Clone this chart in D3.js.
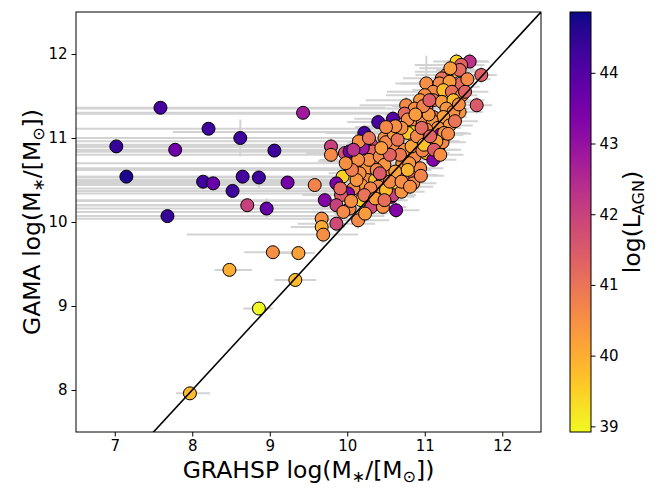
<!DOCTYPE html>
<html><head><meta charset="utf-8">
<script src="https://cdn.jsdelivr.net/npm/d3@7"></script>
<style>body{margin:0;background:#fff} svg{display:block} text{font-family:"DejaVu Sans",sans-serif;fill:#000}</style>
</head><body><svg id="c" width="663" height="488"></svg>
<script>
const xTicks=[7,8,9,10,11,12];
const yTicks=[8,9,10,11,12];
const cTicks=[39,40,41,42,43,44];

const grahsp=[
7.59,7.02,7.78,8.21,8.62,9.06,9.43,7.15,8.14,8.27,
8.52,8.65,8.86,9.23,7.68,8.71,8.96,9.58,8.48,9.04,
9.37,9.33,8.86,7.97,
11.58,11.41,11.47,11.73,11.37,11.45,11.28,11.22,11.41,11.47,
11.02,11.19,11.32,11.11,11.24,11.35,11.48,11.67,11.00,10.94,
11.11,11.22,11.37,11.45,10.76,10.87,11.02,11.11,11.28,11.37,
11.24,11.09,10.94,10.74,10.81,11.32,11.17,11.02,10.85,11.20,
10.72,10.40,10.22,10.59,10.78,10.78,11.02,10.92,10.48,10.31,
10.22,10.33,10.42,10.59,10.74,10.87,11.02,11.11,11.17,11.23,
11.25,10.66,10.74,10.87,10.94,10.57,10.52,10.71,10.25,10.25,
10.36,10.46,9.79,9.79,9.97,10.03,10.20,
10.12,10.28,10.42,10.48,9.94,9.86,10.16,10.18,10.08,10.01,
9.92,9.71,9.86,10.03,10.18,10.31,10.46,10.63,10.63,10.59,
9.67,9.67,9.69,9.86,10.14,10.34,10.40,10.50,9.91,10.14,
10.50,10.60,10.65,10.70,10.83,10.90,10.96,11.05,10.97,10.68,
10.55,10.38,10.62,10.80,10.85,10.78,10.44,10.30,10.22,10.12,
10.06,10.36,10.48,10.55,10.70,11.15,11.30,11.39,11.44,11.52,
11.55,11.33,10.98,10.88,11.06,10.70,10.99,11.07,10.05,9.95,
10.23,10.42,10.15,9.98,10.08,10.28,10.62,10.50,11.12,11.20,
10.95,10.81];

const gama=[
11.36,10.90,10.86,11.11,11.00,10.85,11.30,10.54,10.48,10.46,
10.37,10.54,10.53,10.47,10.07,10.20,10.16,10.44,9.43,9.64,
9.63,9.31,8.97,7.96,
11.91,11.91,11.87,11.75,11.79,11.81,11.75,11.71,11.61,11.65,
11.65,11.65,11.67,11.55,11.57,11.55,11.51,11.39,11.51,11.45,
11.45,11.43,11.45,11.31,11.39,11.35,11.35,11.25,11.35,11.31,
11.25,11.21,11.21,11.29,11.19,11.15,11.12,11.10,11.07,11.04,
11.10,11.19,11.06,11.23,11.22,11.06,10.98,10.96,11.00,10.92,
10.90,10.84,10.74,10.90,10.86,10.78,10.82,10.74,10.86,10.95,
11.06,10.42,10.54,10.56,10.64,10.30,10.60,10.70,10.64,10.50,
10.50,10.50,10.90,10.80,10.82,10.84,10.88,
10.72,10.74,10.78,10.68,10.54,10.46,10.58,10.44,10.40,10.34,
10.32,10.26,10.20,10.16,10.26,10.18,10.18,10.14,10.40,10.32,
10.04,9.94,9.85,9.98,10.02,10.36,10.42,10.38,10.40,10.74,
10.95,11.05,10.98,11.12,10.90,11.02,11.12,11.28,10.85,10.80,
10.80,10.62,10.60,10.70,10.46,10.62,10.88,10.40,10.32,10.50,
10.62,10.28,10.26,10.48,10.36,10.96,11.05,11.20,11.40,11.55,
11.70,11.83,11.38,11.28,11.45,10.48,10.92,11.02,10.25,10.12,
10.10,10.58,10.96,10.70,10.86,11.00,11.14,11.13,10.86,10.80,
10.55,10.42];

const logLagn=[
44.2,44.4,43.6,44.3,44.3,44.3,42.8,44.7,44.3,43.7,
44.3,44.2,44.3,43.5,44.4,42.0,43.7,40.7,40.0,40.5,
40.2,39.8,38.95,39.8,
42.3,39.5,41.3,41.4,39.9,41.2,40.4,41.0,40.5,41.2,
40.5,40.6,40.3,40.6,39.8,41.1,40.4,41.5,40.5,40.4,
41.0,40.3,39.8,40.4,40.6,40.5,40.8,41.2,40.4,40.5,
40.2,40.4,40.6,41.2,40.5,40.3,40.4,40.6,39.6,43.4,
41.1,44.2,44.3,44.0,40.5,39.6,39.5,40.5,40.5,42.0,
42.8,41.2,40.6,40.5,40.4,40.6,39.8,43.3,40.4,40.6,
40.4,39.4,41.3,41.4,40.6,43.3,40.5,40.4,40.4,40.5,
39.7,40.5,42.0,40.6,41.6,43.5,42.8,
41.3,40.5,40.6,40.4,39.5,43.4,40.5,40.3,40.6,43.3,
41.5,43.3,42.0,40.6,39.5,41.8,40.5,43.3,39.5,42.0,
40.5,40.0,40.5,41.8,40.6,40.4,40.6,39.8,41.2,40.5,
40.6,40.3,41.0,40.5,40.2,40.6,41.2,40.4,40.7,40.9,
41.3,40.6,40.2,40.4,40.6,39.9,40.3,40.7,41.0,40.4,
40.8,40.3,41.1,40.6,40.4,40.2,40.6,41.0,40.5,41.3,
40.6,40.3,40.7,40.3,41.4,40.5,39.7,41.3,40.5,40.6,
40.3,41.5,40.5,40.5,42.3,41.0,40.5,40.6,41.5,40.5,
40.7,40.5];

const xErrLo=[
1.5,1.0,1.5,2.0,2.5,3.0,3.5,1.0,2.0,2.0,
2.2,2.5,2.5,3.0,1.5,2.5,2.5,3.5,0.19,0.37,
0.30,0.27,0.20,0.18,
0.35,0.30,0.60,0.30,0.50,0.30,0.40,0.50,0.30,0.35,
0.40,0.50,0.40,0.60,0.40,0.40,0.30,0.40,0.50,0.70,
0.40,0.35,0.30,0.30,0.60,4.50,0.40,0.50,0.30,0.30,
0.35,0.40,0.50,4.50,0.50,0.30,0.40,0.40,3.10,0.30,
0.50,0.40,0.50,0.50,0.40,0.40,0.30,0.40,0.50,4.00,
4.00,4.00,0.50,0.50,0.40,0.40,0.30,0.30,0.30,0.30,
0.30,0.40,0.40,0.40,0.40,0.50,0.40,0.40,4.00,4.00,
0.50,0.50,3.50,3.50,0.50,3.60,0.50,
0.50,0.50,0.50,0.50,0.40,3.50,0.40,0.40,0.40,3.60,
0.50,3.30,3.40,0.40,0.40,0.50,0.50,0.50,0.40,0.40,
3.20,0.40,1.76,0.50,0.40,0.40,0.40,0.40,3.40,0.50,
0.50,0.50,0.50,0.50,0.40,0.40,0.40,0.40,0.40,0.40,
0.40,0.40,0.40,0.40,0.40,0.40,0.40,0.40,0.40,4.00,
4.00,0.40,0.40,0.40,0.40,0.30,0.30,0.30,0.30,0.30,
0.30,0.40,0.40,0.40,0.40,0.40,0.40,0.40,3.80,3.60,
0.40,0.40,4.00,3.60,0.40,0.40,0.40,0.40,0.30,0.30,
0.40,0.40];

const xErrHi=[
2.9,3.6,2.9,2.4,2.0,1.6,1.2,3.4,2.5,2.3,
2.1,2.0,1.8,1.4,2.8,1.9,1.7,0.9,0.29,0.35,
0.21,0.27,0.18,0.26,
0.25,0.40,0.30,0.20,0.30,0.30,0.30,0.30,0.30,0.20,
0.30,0.30,0.30,0.30,0.30,0.30,0.20,0.20,0.30,0.30,
0.30,0.40,0.40,0.30,0.30,0.30,0.30,0.30,0.30,0.30,
0.30,0.30,0.30,0.30,0.30,0.30,0.30,0.30,0.30,0.30,
0.30,0.30,0.30,0.30,0.30,0.30,0.30,0.30,0.30,0.30,
0.30,0.30,0.30,0.30,0.30,0.30,0.30,0.30,0.30,0.30,
0.30,0.30,0.30,0.30,0.30,0.30,0.30,0.30,0.30,0.30,
0.30,0.30,0.50,0.50,0.30,0.40,0.30,
0.30,0.30,0.30,0.30,0.30,0.40,0.30,0.30,0.30,0.40,
0.40,0.40,0.40,0.40,0.30,0.40,0.30,0.30,0.30,0.30,
0.50,0.30,0.45,0.50,0.40,0.30,0.30,0.30,0.30,0.30,
0.30,0.30,0.30,0.30,0.30,0.30,0.30,0.30,0.30,0.30,
0.30,0.30,0.30,0.30,0.30,0.30,0.30,0.30,0.30,0.30,
0.30,0.30,0.30,0.30,0.30,0.30,0.30,0.30,0.30,0.30,
0.30,0.30,0.30,0.30,0.30,0.30,0.30,0.30,0.30,0.30,
0.30,0.30,0.30,0.30,0.30,0.30,0.30,0.30,0.30,0.30,
0.30,0.30];

const yErr=[
0.05,0.05,0.05,0.05,0.22,0.05,0.05,0.05,0.05,0.05,
0.05,0.05,0.12,0.05,0.05,0.05,0.12,0.05,0.05,0.05,
0.05,0.05,0.05,0.05,
0.10,0.10,0.10,0.10,0.10,0.10,0.10,0.10,0.10,0.10,
0.33,0.10,0.10,0.10,0.10,0.10,0.10,0.10,0.10,0.10,
0.10,0.10,0.10,0.10,0.10,0.10,0.10,0.10,0.10,0.10,
0.10,0.10,0.10,0.10,0.10,0.10,0.10,0.10,0.10,0.10,
0.10,0.10,0.10,0.10,0.10,0.10,0.10,0.10,0.10,0.10,
0.10,0.10,0.10,0.10,0.10,0.10,0.10,0.10,0.10,0.10,
0.10,0.10,0.10,0.10,0.10,0.10,0.10,0.10,0.10,0.10,
0.10,0.10,0.10,0.10,0.10,0.10,0.10,
0.10,0.10,0.10,0.10,0.10,0.10,0.10,0.10,0.10,0.10,
0.10,0.10,0.10,0.10,0.10,0.10,0.10,0.10,0.10,0.10,
0.10,0.10,0.10,0.10,0.10,0.10,0.10,0.10,0.10,0.10,
0.10,0.10,0.10,0.10,0.10,0.10,0.10,0.10,0.10,0.10,
0.10,0.10,0.10,0.10,0.10,0.10,0.10,0.10,0.10,0.10,
0.10,0.10,0.10,0.10,0.10,0.10,0.10,0.10,0.10,0.10,
0.10,0.10,0.10,0.10,0.10,0.10,0.10,0.10,0.10,0.10,
0.10,0.10,0.10,0.10,0.10,0.10,0.10,0.10,0.10,0.10,
0.10,0.10];

const lens=[grahsp,gama,logLagn,xErrLo,xErrHi,yErr].map(a=>a.length);
if(new Set(lens).size!==1) throw new Error("length mismatch "+lens.join(","));

const svg=d3.select("#c");
const L=76,R=541,T=12,B=432;
const x=d3.scaleLinear().domain([6.5,12.5]).range([L,R]);
const y=d3.scaleLinear().domain([7.5,12.5]).range([B,T]);
const cMin=38.92,cMax=44.86;
const cNorm=d3.scaleLinear().domain([cMin,cMax]).range([1,0]);
const color=v=>d3.interpolatePlasma(cNorm(v));

svg.append("clipPath").attr("id","clip").append("rect")
  .attr("x",L).attr("y",T).attr("width",R-L).attr("height",B-T);

const data=grahsp.map((g,i)=>({gx:g,gy:gama[i],l:logLagn[i],lo:xErrLo[i],hi:xErrHi[i],ye:yErr[i]}));

const plot=svg.append("g").attr("clip-path","url(#clip)");
const eb=plot.append("g").attr("stroke","#d3d3d3").attr("stroke-width",2);
eb.selectAll("line.h").data(data).join("line").attr("class","h")
  .attr("x1",d=>x(d.gx-d.lo)).attr("x2",d=>x(d.gx+d.hi))
  .attr("y1",d=>y(d.gy)).attr("y2",d=>y(d.gy));
eb.selectAll("line.v").data(data).join("line").attr("class","v")
  .attr("x1",d=>x(d.gx)).attr("x2",d=>x(d.gx))
  .attr("y1",d=>y(d.gy-d.ye)).attr("y2",d=>y(d.gy+d.ye));

plot.append("g").selectAll("circle").data(data).join("circle")
  .attr("cx",d=>x(d.gx)).attr("cy",d=>y(d.gy)).attr("r",6.5)
  .attr("fill",d=>color(d.l)).attr("stroke","#000").attr("stroke-width",1);

plot.append("line").attr("x1",x(6.5)).attr("y1",y(6.5)).attr("x2",x(12.5)).attr("y2",y(12.5))
  .attr("stroke","#000").attr("stroke-width",1.6);

// axes
const ax=svg.append("g").attr("transform",`translate(0,${B})`)
  .call(d3.axisBottom(x).tickValues(xTicks).tickFormat(d3.format("d")).tickSize(4.5).tickPadding(4));
const ay=svg.append("g").attr("transform",`translate(${L},0)`)
  .call(d3.axisLeft(y).tickValues(yTicks).tickFormat(d3.format("d")).tickSize(4.5).tickPadding(4));
[ax,ay].forEach(a=>{a.select(".domain").remove();a.selectAll("text").attr("font-size",15).attr("font-family","DejaVu Sans").attr("fill","#000");a.selectAll("line").attr("stroke","#000");});

svg.append("rect").attr("x",L).attr("y",T).attr("width",R-L).attr("height",B-T)
  .attr("fill","none").attr("stroke","#000").attr("stroke-width",1);

// colorbar
const CL=570,CR=591;
const grad=svg.append("defs").append("linearGradient").attr("id","cg")
  .attr("x1",0).attr("y1",1).attr("x2",0).attr("y2",0);
d3.range(0,1.0001,0.05).forEach(t=>grad.append("stop").attr("offset",t).attr("stop-color",d3.interpolatePlasma(1-t)));
svg.append("rect").attr("x",CL).attr("y",T).attr("width",CR-CL).attr("height",B-T)
  .attr("fill","url(#cg)").attr("stroke","#000").attr("stroke-width",1);
const cs=d3.scaleLinear().domain([cMin,cMax]).range([B,T]);
const ac=svg.append("g").attr("transform",`translate(${CR},0)`)
  .call(d3.axisRight(cs).tickValues(cTicks).tickFormat(d3.format("d")).tickSize(4.5).tickPadding(4));
ac.select(".domain").remove();
ac.selectAll("text").attr("font-size",15).attr("font-family","DejaVu Sans").attr("fill","#000");
ac.selectAll("line").attr("stroke","#000");

// labels
function massLabel(sel,prefix){
  sel.append("tspan").text(prefix+" log(M");
  sel.append("tspan").attr("font-size",16).attr("dy",4).text("∗");
  sel.append("tspan").attr("dy",-4).text("/[M");
  sel.append("tspan").attr("font-size",16).attr("dy",4).text("⊙");
  sel.append("tspan").attr("dy",-4).text("])");
}
const xl=svg.append("text").attr("x",(L+R)/2).attr("y",478).attr("text-anchor","middle").attr("font-size",23.5);
massLabel(xl,"GRAHSP");
const yl=svg.append("text").attr("transform",`translate(40,${(T+B)/2}) rotate(-90)`).attr("text-anchor","middle").attr("font-size",23.5);
massLabel(yl,"GAMA");
const cl=svg.append("text").attr("transform",`translate(640,${(T+B)/2}) rotate(-90)`).attr("text-anchor","middle").attr("font-size",23.5);
cl.append("tspan").text("log(L");
cl.append("tspan").attr("font-size",16).attr("dy",4).text("AGN");
cl.append("tspan").attr("dy",-4).text(")");
</script></body></html>
